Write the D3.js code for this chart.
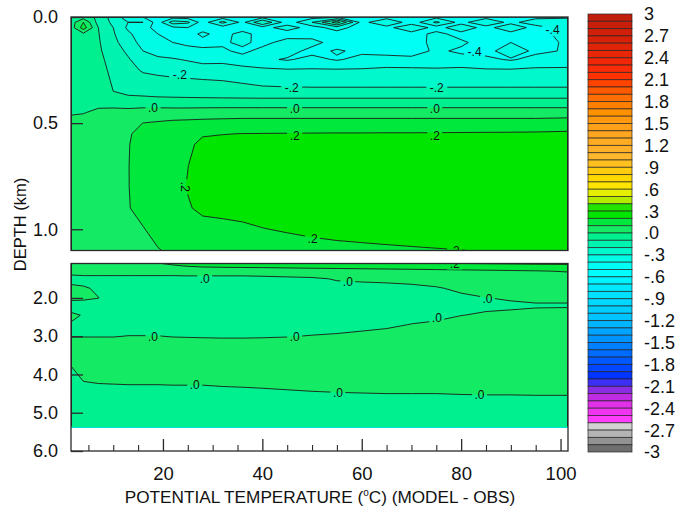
<!DOCTYPE html>
<html>
<head>
<meta charset="utf-8">
<script src="https://cdn.jsdelivr.net/npm/d3@7"></script>
<style>
  body { margin: 0; background: #fff; }
  text { font-family: "Liberation Sans", Arial, Helvetica, sans-serif; fill: #111; }
</style>
</head>
<body>
<svg id="chart" width="679" height="510"></svg>
<script>
// Grid columns (x, same units as the bottom axis) and depth rows (km)
const xCols = [1.5, 4, 7, 10, 13, 16, 19, 22, 25, 28, 32, 36, 40, 45, 50, 55, 60, 65, 70, 75, 80, 85, 90, 95, 101.5];
const depthRows = [0, 0.025, 0.05, 0.08, 0.12, 0.16, 0.2, 0.25, 0.3, 0.35, 0.4, 0.45, 0.5, 0.55, 0.6, 0.7, 0.8, 0.9, 1.0,
                   1.1, 1.3, 1.5, 1.75, 2.0, 2.2, 2.45, 2.7, 3.0, 3.4, 3.8, 4.2, 4.6, 5.0, 5.37];

// Potential temperature difference (model - obs), one row per depth
const thetaDiff = [
  [-0.08,-0.05,-0.12,-0.25,-0.35,-0.40,-0.42,-0.44,-0.45,-0.44,-0.45,-0.44,-0.44,-0.45,-0.44,-0.42,-0.44,-0.45,-0.44,-0.43,-0.45,-0.44,-0.45,-0.44,-0.43],
  [-0.05, 0.10,-0.14,-0.22,-0.30,-0.30,-0.45,-0.25,-0.28,-0.45,-0.27,-0.43,-0.20,-0.46,-0.30,-0.05,-0.44,-0.30,-0.46,-0.28,-0.44,-0.30,-0.44,-0.32,-0.30],
  [-0.05, 0.15,-0.10,-0.20,-0.32,-0.38,-0.42,-0.42,-0.40,-0.44,-0.45,-0.46,-0.44,-0.35,-0.45,-0.35,-0.46,-0.44,-0.30,-0.45,-0.32,-0.45,-0.30,-0.46,-0.33],
  [-0.06,-0.02,-0.095,-0.19,-0.28,-0.36,-0.40,-0.42,-0.44,-0.38,-0.44,-0.36,-0.45,-0.46,-0.44,-0.45,-0.44,-0.45,-0.45,-0.37,-0.44,-0.46,-0.45,-0.44,-0.36],
  [-0.06,-0.06,-0.09,-0.17,-0.26,-0.33,-0.37,-0.40,-0.42,-0.43,-0.42,-0.37,-0.44,-0.35,-0.37,-0.44,-0.45,-0.43,-0.46,-0.36,-0.38,-0.45,-0.40,-0.45,-0.38],
  [-0.06,-0.06,-0.085,-0.15,-0.22,-0.30,-0.34,-0.36,-0.37,-0.38,-0.38,-0.43,-0.36,-0.36,-0.43,-0.39,-0.42,-0.44,-0.45,-0.38,-0.42,-0.43,-0.35,-0.42,-0.39],
  [-0.06,-0.06,-0.08,-0.13,-0.19,-0.26,-0.28,-0.29,-0.31,-0.34,-0.33,-0.35,-0.38,-0.41,-0.37,-0.41,-0.37,-0.36,-0.37,-0.39,-0.36,-0.38,-0.41,-0.37,-0.36],
  [-0.05,-0.05,-0.07,-0.12,-0.17,-0.21,-0.215,-0.23,-0.235,-0.24,-0.25,-0.27,-0.28,-0.29,-0.29,-0.29,-0.29,-0.28,-0.28,-0.28,-0.28,-0.29,-0.29,-0.28,-0.28],
  [-0.05,-0.05,-0.06,-0.11,-0.15,-0.17,-0.185,-0.185,-0.19,-0.195,-0.20,-0.21,-0.225,-0.235,-0.24,-0.24,-0.24,-0.24,-0.24,-0.24,-0.24,-0.24,-0.24,-0.24,-0.24],
  [-0.04,-0.05,-0.05,-0.10,-0.13,-0.14,-0.15,-0.15,-0.155,-0.16,-0.165,-0.17,-0.175,-0.175,-0.175,-0.175,-0.175,-0.175,-0.175,-0.175,-0.175,-0.175,-0.175,-0.175,-0.175],
  [-0.03,-0.04,-0.03,-0.04,-0.05,-0.05,-0.055,-0.06,-0.06,-0.06,-0.06,-0.06,-0.06,-0.06,-0.06,-0.06,-0.06,-0.06,-0.06,-0.06,-0.06,-0.06,-0.06,-0.06,-0.06],
  [-0.01,-0.005,0.02,0.03,0.03,0.04,0.045,0.045,0.045,0.048,0.05,0.05,0.05,0.05,0.05,0.05,0.05,0.05,0.05,0.05,0.05,0.05,0.05,0.05,0.05],
  [0.03,0.04,0.05,0.06,0.07,0.101,0.11,0.12,0.125,0.13,0.135,0.14,0.14,0.14,0.14,0.14,0.14,0.14,0.14,0.14,0.14,0.14,0.14,0.14,0.15],
  [0.05,0.055,0.065,0.08,0.09,0.13,0.15,0.165,0.175,0.195,0.198,0.201,0.202,0.203,0.204,0.205,0.205,0.206,0.206,0.207,0.208,0.209,0.21,0.212,0.215],
  [0.06,0.062,0.07,0.085,0.095,0.14,0.16,0.175,0.19,0.212,0.22,0.23,0.235,0.238,0.24,0.24,0.24,0.24,0.24,0.24,0.24,0.24,0.24,0.24,0.24],
  [0.065,0.065,0.07,0.088,0.097,0.145,0.165,0.18,0.199,0.222,0.235,0.245,0.25,0.255,0.258,0.26,0.26,0.26,0.26,0.26,0.26,0.26,0.26,0.26,0.26],
  [0.065,0.065,0.07,0.088,0.097,0.14,0.165,0.18,0.203,0.224,0.238,0.245,0.25,0.255,0.258,0.26,0.26,0.26,0.26,0.26,0.26,0.26,0.26,0.26,0.26],
  [0.065,0.065,0.07,0.085,0.095,0.13,0.155,0.17,0.195,0.212,0.21,0.215,0.225,0.232,0.238,0.24,0.242,0.244,0.245,0.246,0.247,0.248,0.249,0.25,0.25],
  [0.06,0.062,0.068,0.078,0.085,0.095,0.13,0.15,0.165,0.18,0.19,0.192,0.198,0.205,0.212,0.218,0.222,0.226,0.23,0.233,0.236,0.24,0.243,0.246,0.25],
  [0.055,0.06,0.065,0.07,0.075,0.085,0.095,0.115,0.135,0.15,0.16,0.165,0.17,0.175,0.18,0.184,0.187,0.19,0.193,0.196,0.199,0.203,0.206,0.21,0.213],
  [0.03,0.035,0.035,0.035,0.035,0.035,0.035,0.035,0.04,0.04,0.04,0.04,0.04,0.045,0.05,0.055,0.06,0.065,0.07,0.075,0.08,0.085,0.09,0.095,0.105],
  [-0.03,-0.025,-0.025,-0.025,-0.025,-0.025,-0.025,-0.025,-0.025,-0.025,-0.025,-0.025,-0.02,-0.015,-0.01,0.005,0.01,0.015,0.02,0.025,0.035,0.045,0.05,0.055,0.06],
  [0.02,0.008,-0.01,-0.03,-0.03,-0.03,-0.03,-0.03,-0.03,-0.03,-0.03,-0.03,-0.03,-0.03,-0.03,-0.02,-0.02,-0.02,-0.015,-0.005,0.01,0.02,0.025,0.03,0.035],
  [0.015,0.01,0.001,-0.02,-0.03,-0.03,-0.03,-0.03,-0.03,-0.03,-0.03,-0.03,-0.03,-0.03,-0.03,-0.03,-0.028,-0.025,-0.022,-0.015,-0.01,-0.001,0.005,0.008,0.01],
  [-0.03,-0.025,-0.025,-0.03,-0.03,-0.03,-0.03,-0.03,-0.03,-0.03,-0.03,-0.03,-0.03,-0.03,-0.03,-0.03,-0.028,-0.026,-0.024,-0.018,-0.015,-0.01,-0.008,-0.004,-0.005],
  [0.012,-0.004,-0.02,-0.03,-0.03,-0.03,-0.03,-0.03,-0.03,-0.03,-0.03,-0.03,-0.03,-0.03,-0.03,-0.028,-0.026,-0.024,-0.02,-0.015,-0.001,0.006,0.01,0.012,0.02],
  [-0.005,-0.015,-0.02,-0.02,-0.02,-0.02,-0.02,-0.02,-0.02,-0.02,-0.02,-0.02,-0.02,-0.02,-0.02,-0.02,-0.015,-0.01,0.002,0.01,0.02,0.02,0.025,0.028,0.03],
  [-0.002,-0.002,-0.002,-0.002,0.001,0.001,0.001,-0.002,-0.003,-0.004,-0.005,-0.005,-0.004,-0.002,0.002,0.006,0.012,0.02,0.025,0.028,0.03,0.032,0.034,0.035,0.036],
  [0.03,0.035,0.035,0.035,0.036,0.036,0.036,0.036,0.036,0.036,0.035,0.035,0.035,0.035,0.036,0.037,0.038,0.039,0.04,0.04,0.04,0.04,0.04,0.04,0.04],
  [-0.001,0.02,0.028,0.03,0.03,0.03,0.03,0.03,0.03,0.03,0.03,0.032,0.033,0.034,0.035,0.035,0.036,0.036,0.036,0.036,0.036,0.036,0.036,0.036,0.036],
  [-0.02,-0.001,0.002,0.003,0.004,0.004,0.004,0.005,0.005,0.005,0.008,0.01,0.012,0.015,0.018,0.02,0.022,0.024,0.024,0.024,0.025,0.025,0.025,0.025,0.025],
  [-0.025,-0.02,-0.02,-0.02,-0.02,-0.02,-0.02,-0.02,-0.02,-0.02,-0.02,-0.02,-0.018,-0.015,-0.012,-0.01,-0.009,-0.008,-0.008,-0.008,-0.006,-0.005,-0.005,-0.004,-0.004],
  [-0.025,-0.025,-0.025,-0.025,-0.025,-0.025,-0.025,-0.025,-0.025,-0.025,-0.025,-0.025,-0.025,-0.025,-0.025,-0.025,-0.025,-0.025,-0.025,-0.025,-0.025,-0.025,-0.025,-0.025,-0.025],
  [-0.03,-0.03,-0.03,-0.03,-0.03,-0.03,-0.03,-0.03,-0.03,-0.03,-0.03,-0.03,-0.03,-0.03,-0.03,-0.03,-0.03,-0.03,-0.03,-0.03,-0.03,-0.03,-0.03,-0.03,-0.03]
];

// Colour table, one entry per 0.1 band, from the 2.9..3.0 band down to -3.0..-2.9
const bandColors = [
  "#c21e0c","#c81e0a","#d0200a","#d82208","#e02408","#e82608","#f02808","#f82c06","#ff3204","#ff4400",
  "#ff5a00","#ff6e00","#ff8000","#ff9000","#ff9a10","#ffa018","#ffa620","#ffac24","#ffb028","#ffb82c",
  "#ffc020","#ffcc10","#ffd800","#ffe400","#e4f000","#b4ec00","#22e400","#00e600","#00e83c","#14ea64",
  "#00f090","#00f4b0","#00f8cc","#00fce4","#00fff4","#00ffff","#00f4ff","#00eaff","#00e0ff","#00d8ff",
  "#00ceff","#00c4ff","#00b4ff","#00a4ff","#0094ff","#0080ff","#006cff","#0058ff","#0046ff","#0034ff",
  "#3c30f4","#8a2ce4","#c02ce4","#e030ea","#f034f2","#ff3cff","#d2d2d2","#b4b4b4","#929292","#6e6e6e"
];

const barTickValues = [3, 2.7, 2.4, 2.1, 1.8, 1.5, 1.2, 0.9, 0.6, 0.3, 0, -0.3, -0.6, -0.9, -1.2, -1.5, -1.8, -2.1, -2.4, -2.7, -3];
const barTickLabels = ["3", "2.7", "2.4", "2.1", "1.8", "1.5", "1.2", ".9", ".6", ".3", ".0", "-.3", "-.6", "-.9", "-1.2", "-1.5", "-1.8", "-2.1", "-2.4", "-2.7", "-3"];
const xTicks = [20, 40, 60, 80, 100];
const xMinorTicks = [5, 10, 15, 25, 30, 35, 45, 50, 55, 65, 70, 75, 85, 90, 95];
const upperDepthTicks = [0, 0.5, 1.0];
const lowerDepthTicks = [2, 3, 4, 5, 6];

// Contour labels: level and where along the line it is written
const contourLabels = [
  { level: 0, x: 18.0, depth: 0.425 }, { level: 0, x: 46.5, depth: 0.43 }, { level: 0, x: 74.7, depth: 0.43 },
  { level: -0.2, x: 45.9, depth: 0.335 }, { level: -0.2, x: 75.1, depth: 0.335 }, { level: -0.2, x: 23.4, depth: 0.274 },
  { level: 0.2, x: 46.5, depth: 0.557 }, { level: 0.2, x: 74.7, depth: 0.557 }, { level: 0.2, x: 24.6, depth: 0.80, vertical: true },
  { level: 0.2, x: 50.1, depth: 1.043 }, { level: 0.2, x: 78.7, depth: 1.1 },
  { level: -0.4, x: 98.4, depth: 0.061 }, { level: -0.4, x: 82.7, depth: 0.165 },
  { level: 0, x: 28.4, depth: 1.505 }, { level: 0, x: 57.2, depth: 1.583 }, { level: 0, x: 85.3, depth: 2.03 },
  { level: 0, x: 18.0, depth: 3.02 }, { level: 0, x: 46.5, depth: 3.02 }, { level: 0, x: 75.1, depth: 2.52 },
  { level: 0, x: 26.4, depth: 4.27 }, { level: 0, x: 55.2, depth: 4.48 }, { level: 0, x: 83.7, depth: 4.54 }
];

const svg = d3.select("#chart");
const defs = svg.append("defs");
const fontStack = "'Liberation Sans', Arial, Helvetica, sans-serif";

const plotLeft = 71, plotRight = 568;
const x = d3.scaleLinear().domain([1.5, 101.5]).range([plotLeft, plotRight]);
const panels = [
  { id: "upper", depth: [0, 1.1], range: [17, 250.5], ticks: upperDepthTicks },
  { id: "lower", depth: [1.1, 6.0], range: [263.5, 451], ticks: lowerDepthTicks }
];

const nx = xCols.length, ny = depthRows.length;
const colAt = d3.scaleLinear().domain(xCols.map((_, i) => i + 0.5)).range(xCols).clamp(true);
const rowAt = d3.scaleLinear().domain(depthRows.map((_, i) => i + 0.5)).range(depthRows).clamp(true);
const levels = d3.range(-30, 30).map(i => i / 10);
const bands = d3.contours().size([nx, ny]).thresholds(levels)(thetaDiff.flat());
const bandColor = v => bandColors[Math.round((2.9 - v) * 10)];
// contour levels written as ".2", "-.4", ".0"
const fmtLevel = v => (v < 0 ? "-" : "") + "." + Math.round(Math.abs(v) * 10);
const dataBottom = depthRows[depthRows.length - 1];

// Gaps in the contour lines behind each label
const mask = defs.append("mask").attr("id", "labelGaps")
  .attr("maskUnits", "userSpaceOnUse").attr("x", 0).attr("y", 0).attr("width", 679).attr("height", 510);
mask.append("rect").attr("width", 679).attr("height", 510).attr("fill", "#fff");

panels.forEach(p => {
  const y = d3.scaleLinear().domain(p.depth).range(p.range);
  const proj = d3.geoTransform({
    point(px, py) { this.stream.point(x(colAt(px)), y(rowAt(py))); }
  });
  const path = d3.geoPath(proj);
  const h = p.range[1] - p.range[0];

  defs.append("clipPath").attr("id", "clip-" + p.id)
    .append("rect").attr("x", plotLeft).attr("y", p.range[0]).attr("width", plotRight - plotLeft).attr("height", h);
  const lineBottom = Math.min(p.range[1], y(dataBottom) - 0.8);
  defs.append("clipPath").attr("id", "lineclip-" + p.id)
    .append("rect").attr("x", plotLeft).attr("y", p.range[0]).attr("width", plotRight - plotLeft).attr("height", lineBottom - p.range[0]);

  const g = svg.append("g").attr("clip-path", `url(#clip-${p.id})`);
  g.selectAll("path.band").data(bands).join("path")
    .attr("class", "band")
    .attr("d", path)
    .attr("fill", d => bandColor(d.value))
    .attr("stroke", d => bandColor(d.value))
    .attr("stroke-width", 0.4);

  const lg = svg.append("g").attr("clip-path", `url(#lineclip-${p.id})`)
    .append("g").attr("mask", "url(#labelGaps)");
  lg.selectAll("path.iso").data(bands.filter(d => d.value >= -0.6 && d.value <= 0.4)).join("path")
    .attr("class", "iso")
    .attr("d", path)
    .attr("fill", "none")
    .attr("stroke", "#1c1c1c")
    .attr("stroke-width", 0.9)
    .attr("stroke-linejoin", "round");

  const labs = contourLabels.filter(l => l.depth >= p.depth[0] && l.depth <= p.depth[1]);
  const tg = svg.append("g").attr("clip-path", `url(#clip-${p.id})`);
  labs.forEach(l => {
    const cx = x(l.x), cy = y(l.depth);
    const t = fmtLevel(l.level);
    const w = t.length * 6 + 3;
    const rot = l.vertical ? 90 : 0;
    mask.append("rect")
      .attr("x", -w / 2).attr("y", -6).attr("width", w).attr("height", 12)
      .attr("transform", `translate(${cx},${cy}) rotate(${rot})`)
      .attr("fill", "#000");
    tg.append("text")
      .attr("transform", `translate(${cx},${cy}) rotate(${rot})`)
      .attr("text-anchor", "middle").attr("dy", "0.36em")
      .attr("font-size", 12)
      .text(t);
  });

  // frame
  svg.append("rect").attr("x", plotLeft).attr("y", p.range[0]).attr("width", plotRight - plotLeft).attr("height", h)
    .attr("fill", "none").attr("stroke", "#2a2a2a").attr("stroke-width", 1.3);

  // depth axis with inward ticks
  const ya = svg.append("g").attr("transform", `translate(${plotLeft},0)`)
    .call(d3.axisLeft(y).tickValues(p.ticks).tickFormat(d3.format(".1f")).tickSize(-12).tickSizeOuter(0).tickPadding(13));
  ya.select(".domain").remove();
  ya.selectAll(".tick line").attr("stroke", "#2a2a2a").attr("stroke-width", 1.3);
  ya.selectAll(".tick text").attr("font-size", 18).attr("fill", "#111").attr("font-family", fontStack);

  if (p.id === "lower") {
    const xa = svg.append("g").attr("transform", `translate(0,${p.range[1]})`)
      .call(d3.axisBottom(x).tickValues(xTicks).tickSize(-12).tickSizeOuter(0).tickPadding(16));
    xa.select(".domain").remove();
    xa.selectAll(".tick line").attr("stroke", "#2a2a2a").attr("stroke-width", 1.3);
    xa.selectAll(".tick text").attr("font-size", 18.5).attr("fill", "#111").attr("font-family", fontStack);
    const xm = svg.append("g").attr("transform", `translate(0,${p.range[1]})`)
      .call(d3.axisBottom(x).tickValues(xMinorTicks).tickSize(-6).tickSizeOuter(0).tickFormat(""));
    xm.select(".domain").remove();
    xm.selectAll(".tick line").attr("stroke", "#2a2a2a").attr("stroke-width", 1.1);
  }
});

// axis titles
svg.append("text")
  .attr("transform", "translate(26,224.5) rotate(-90)")
  .attr("text-anchor", "middle").attr("font-size", 16.5)
  .text("DEPTH (km)");

const xt = svg.append("text").attr("x", 320).attr("y", 503).attr("text-anchor", "middle").attr("font-size", 17.2);
xt.append("tspan").text("POTENTIAL TEMPERATURE (");
xt.append("tspan").attr("font-size", 10).attr("dy", -7).text("o");
xt.append("tspan").attr("dy", 7).text("C) (MODEL - OBS)");

// colour bar
const yBar = d3.scaleLinear().domain([3, -3]).range([14, 452]);
const bar = svg.append("g");
bar.selectAll("rect").data(bandColors).join("rect")
  .attr("x", 588).attr("width", 44)
  .attr("y", (c, i) => yBar(3 - i / 10))
  .attr("height", (c, i) => yBar(3 - (i + 1) / 10) - yBar(3 - i / 10))
  .attr("fill", c => c)
  .attr("stroke", "#222").attr("stroke-opacity", 0.75).attr("stroke-width", 0.9);
bar.selectAll("text").data(barTickValues).join("text")
  .attr("x", 644).attr("y", v => yBar(v)).attr("dy", "0.36em")
  .attr("font-size", 18)
  .text((v, i) => barTickLabels[i]);
</script>
</body>
</html>
